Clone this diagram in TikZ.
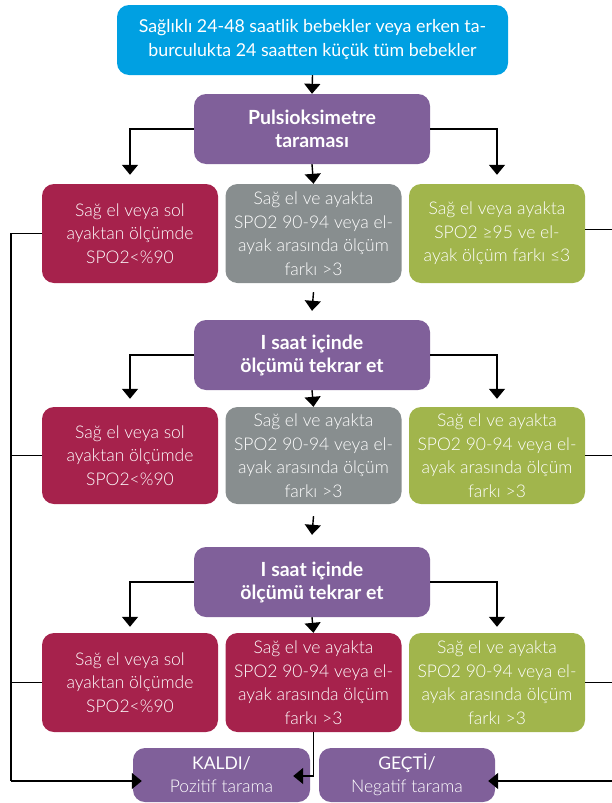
\documentclass[tikz,border=0pt]{standalone}
\usepackage{fontspec}
\setmainfont{Lato}
\newfontfamily\lightfont{Lato Light}
\usetikzlibrary{arrows.meta}
\definecolor{cblue}{HTML}{00A0E2}
\definecolor{cpurple}{HTML}{80609A}
\definecolor{cred}{HTML}{A6224C}
\definecolor{cgray}{HTML}{888E8F}
\definecolor{cgreen}{HTML}{A1B54C}
\begin{document}
\begin{tikzpicture}[x=1pt,y=-1pt,
  box/.style={rectangle, rounded corners=12pt, text=white, align=center, inner sep=0pt},
  topbox/.style={box, fill=cblue, minimum width=391pt, minimum height=70pt, font=\fontsize{17.8}{24}\selectfont},
  purp/.style={box, fill=cpurple, minimum width=236pt, minimum height=70pt, font=\fontsize{19.5}{23}\selectfont\bfseries},
  rowbox/.style={box, minimum width=176pt, minimum height=99pt, font=\fontsize{17.5}{23.5}\selectfont\lightfont},
  redbox/.style={rowbox, fill=cred},
  graybox/.style={rowbox, fill=cgray},
  greenbox/.style={rowbox, fill=cgreen},
  endbox/.style={box, fill=cpurple, minimum width=177pt, minimum height=54pt, font=\fontsize{17.5}{23}\selectfont},
  arr/.style={-{Triangle[width=16pt,length=10pt]}, line width=1.4pt},
  ln/.style={line width=1.4pt}
]
\useasboundingbox (0,0) rectangle (611,803);

\node[topbox] (top) at (312.5,40) {Sağlıklı 24-48 saatlik bebekler veya erken ta-\\burculukta 24 saatten küçük tüm bebekler};

\node[purp] (p1) at (312,129) {Pulsioksimetre\\taraması};
\node[redbox] (r1l) at (130,233.5) {Sağ el veya sol\\ayaktan ölçümde\\SPO2<\%90};
\node[graybox] (r1m) at (313.5,233.5) {Sağ el ve ayakta\\SPO2 90-94 veya el-\\ayak arasında ölçüm\\farkı >3};
\node[greenbox] (r1r) at (497,233.5) {Sağ el veya ayakta\\SPO2 ≥95 ve el-\\ayak ölçüm farkı ≤3};

\node[purp] (p2) at (312,355) {I saat içinde\\ölçümü tekrar et};
\node[redbox, minimum height=97pt] (r2l) at (130,455.5) {Sağ el veya sol\\ayaktan ölçümde\\SPO2<\%90};
\node[graybox, minimum height=97pt] (r2m) at (313.5,455.5) {Sağ el ve ayakta\\SPO2 90-94 veya el-\\ayak arasında ölçüm\\farkı >3};
\node[greenbox, minimum height=97pt] (r2r) at (497,455.5) {Sağ el ve ayakta\\SPO2 90-94 veya el-\\ayak arasında ölçüm\\farkı >3};

\node[purp] (p3) at (312,582) {I saat içinde\\ölçümü tekrar et};
\node[redbox] (r3l) at (130,682.5) {Sağ el veya sol\\ayaktan ölçümde\\SPO2<\%90};
\node[redbox] (r3m) at (313.5,682.5) {Sağ el ve ayakta\\SPO2 90-94 veya el-\\ayak arasında ölçüm\\farkı >3};
\node[greenbox] (r3r) at (497,682.5) {Sağ el ve ayakta\\SPO2 90-94 veya el-\\ayak arasında ölçüm\\farkı >3};

\node[endbox] (kaldi) at (221.5,775) {KALDI/\\{\lightfont Pozitif tarama}};
\node[endbox, minimum width=176pt] (gecti) at (407,775) {GEÇTİ/\\{\lightfont Negatif tarama}};

\coordinate (Lb) at (11,781);
\coordinate (Rb) at (625,781);

% top to p1
\draw[arr] (top.south) -- (p1.north);
% p1 branches
\draw[arr] (p1.west) -| ([yshift=9pt]r1l.north);
\draw[arr] (p1.east) -| ([yshift=9pt]r1r.north);
\draw[arr] (p1.south) -- (r1m.north);
\draw[arr] ([yshift=-9pt]r1m.south) -- ([yshift=9pt]p2.north);
% p2 branches
\draw[arr] (p2.west) -| ([yshift=8pt]r2l.north);
\draw[arr] (p2.east) -| ([yshift=8pt]r2r.north);
\draw[arr] (p2.south) -- (r2m.north);
\draw[arr] ([yshift=-12pt]r2m.south) -- ([yshift=12pt]p3.north);
% p3 branches
\draw[arr] (p3.west) -| ([yshift=6pt]r3l.north);
\draw[arr] (p3.east) -| ([yshift=6pt]r3r.north);
\draw[arr] (p3.south) -- (r3m.north);

% left collector
\draw[ln] (r1l.west) -| (Lb);
\draw[ln] (r2l.west) -- (r2l.west -| Lb);
\draw[ln] (r3l.west) -- (r3l.west -| Lb);
\draw[arr] (Lb) -- ([xshift=9pt]Lb -| kaldi.west);
% middle to kaldi
\draw[arr] (r3m.south) |- ([xshift=-17pt]kaldi.east |- 0,776);
% right collector
\draw[ln] ([yshift=4pt]r1r.east) -| (Rb);
\draw[ln] (r2r.east) -- (r2r.east -| Rb);
\draw[ln] (r3r.east) -- (r3r.east -| Rb);
\draw[arr] (Rb) -- ([xshift=-7pt]Rb -| gecti.east);
\end{tikzpicture}
\end{document}
